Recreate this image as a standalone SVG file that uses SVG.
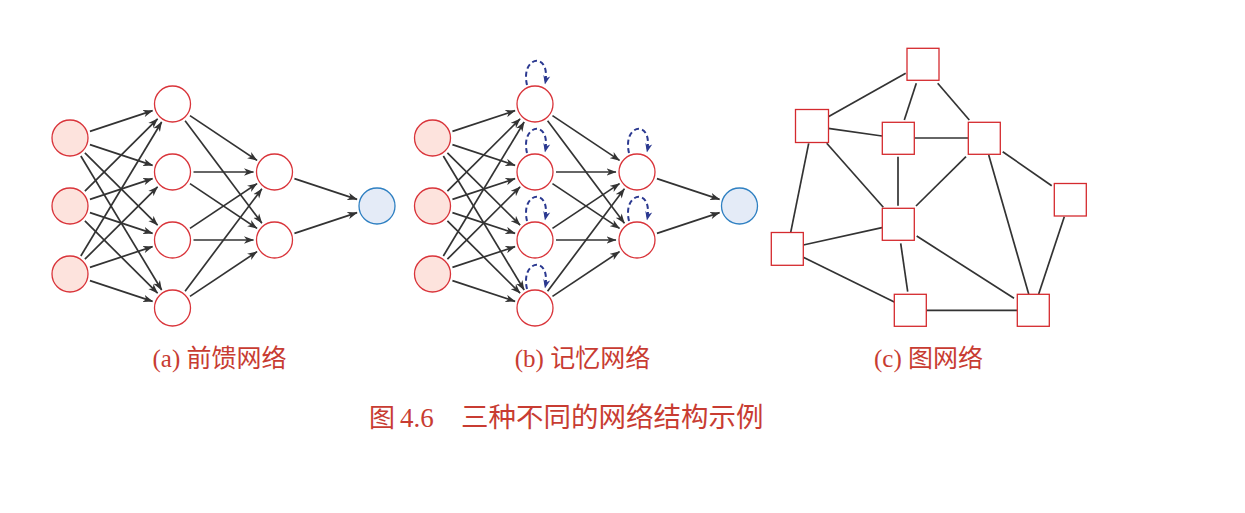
<svg xmlns="http://www.w3.org/2000/svg" width="1245" height="513" viewBox="0 0 1245 513">
<style>
.in{fill:#fde3dd;stroke:#d9343a;stroke-width:1.3}
.hid{fill:#ffffff;stroke:#d9343a;stroke-width:1.3}
.out{fill:#e4ebf7;stroke:#2f80c2;stroke-width:1.3}
.sq{fill:#ffffff;stroke:#d42a2e;stroke-width:1.3}
.e{stroke:#333333;stroke-width:1.7;fill:none;marker-end:url(#arr)}
.g{stroke:#333333;stroke-width:1.7;fill:none}
.loop{stroke:#2b3990;stroke-width:2;fill:none;stroke-dasharray:5 3.2;marker-end:url(#arrb)}
.lbl{font-family:"Liberation Serif","Noto Sans CJK SC",serif;font-size:25px;fill:#c83c32;text-anchor:middle}
.cap{font-family:"Liberation Serif","Noto Sans CJK SC",serif;fill:#c83c32}
</style>
<defs>
<marker id="arr" markerUnits="userSpaceOnUse" markerWidth="10" markerHeight="8" viewBox="0 0 10 8" refX="9.5" refY="4" orient="auto">
<path d="M0,0.3 L10,4 L0,7.7 L2.8,4 z" fill="#333333"/>
</marker>
<marker id="arrb" markerUnits="userSpaceOnUse" markerWidth="9" markerHeight="8" viewBox="0 0 9 8" refX="8.5" refY="4" orient="auto">
<path d="M0,0.5 L9,4 L0,7.5 L2.5,4 z" fill="#2b3990"/>
</marker>
</defs>

<g id="edges-a">
<line class="e" x1="89.93" y1="131.39" x2="152.57" y2="110.61"/>
<line class="e" x1="89.93" y1="144.61" x2="152.57" y2="165.39"/>
<line class="e" x1="84.89" y1="152.81" x2="157.61" y2="225.19"/>
<line class="e" x1="80.84" y1="155.98" x2="161.66" y2="290.02"/>
<line class="e" x1="84.89" y1="191.19" x2="157.61" y2="118.81"/>
<line class="e" x1="89.93" y1="199.39" x2="152.57" y2="178.61"/>
<line class="e" x1="89.93" y1="212.61" x2="152.57" y2="233.39"/>
<line class="e" x1="84.89" y1="220.81" x2="157.61" y2="293.19"/>
<line class="e" x1="80.84" y1="256.02" x2="161.66" y2="121.98"/>
<line class="e" x1="84.89" y1="259.19" x2="157.61" y2="186.81"/>
<line class="e" x1="89.93" y1="267.39" x2="152.57" y2="246.61"/>
<line class="e" x1="89.93" y1="280.61" x2="152.57" y2="301.39"/>
<line class="e" x1="189.97" y1="115.65" x2="257.03" y2="160.35"/>
<line class="e" x1="185.1" y1="120.8" x2="261.9" y2="223.2"/>
<line class="e" x1="193.5" y1="172" x2="253.5" y2="172"/>
<line class="e" x1="189.97" y1="183.65" x2="257.03" y2="228.35"/>
<line class="e" x1="189.97" y1="228.35" x2="257.03" y2="183.65"/>
<line class="e" x1="193.5" y1="240" x2="253.5" y2="240"/>
<line class="e" x1="185.1" y1="291.2" x2="261.9" y2="188.8"/>
<line class="e" x1="189.97" y1="296.35" x2="257.03" y2="251.65"/>
<line class="e" x1="294.43" y1="178.61" x2="357.07" y2="199.39"/>
<line class="e" x1="294.43" y1="233.39" x2="357.07" y2="212.61"/>
</g>

<g id="edges-b" transform="translate(362.5 0)">
<line class="e" x1="89.93" y1="131.39" x2="152.57" y2="110.61"/>
<line class="e" x1="89.93" y1="144.61" x2="152.57" y2="165.39"/>
<line class="e" x1="84.89" y1="152.81" x2="157.61" y2="225.19"/>
<line class="e" x1="80.84" y1="155.98" x2="161.66" y2="290.02"/>
<line class="e" x1="84.89" y1="191.19" x2="157.61" y2="118.81"/>
<line class="e" x1="89.93" y1="199.39" x2="152.57" y2="178.61"/>
<line class="e" x1="89.93" y1="212.61" x2="152.57" y2="233.39"/>
<line class="e" x1="84.89" y1="220.81" x2="157.61" y2="293.19"/>
<line class="e" x1="80.84" y1="256.02" x2="161.66" y2="121.98"/>
<line class="e" x1="84.89" y1="259.19" x2="157.61" y2="186.81"/>
<line class="e" x1="89.93" y1="267.39" x2="152.57" y2="246.61"/>
<line class="e" x1="89.93" y1="280.61" x2="152.57" y2="301.39"/>
<line class="e" x1="189.97" y1="115.65" x2="257.03" y2="160.35"/>
<line class="e" x1="185.1" y1="120.8" x2="261.9" y2="223.2"/>
<line class="e" x1="193.5" y1="172" x2="253.5" y2="172"/>
<line class="e" x1="189.97" y1="183.65" x2="257.03" y2="228.35"/>
<line class="e" x1="189.97" y1="228.35" x2="257.03" y2="183.65"/>
<line class="e" x1="193.5" y1="240" x2="253.5" y2="240"/>
<line class="e" x1="185.1" y1="291.2" x2="261.9" y2="188.8"/>
<line class="e" x1="189.97" y1="296.35" x2="257.03" y2="251.65"/>
<line class="e" x1="294.43" y1="178.61" x2="357.07" y2="199.39"/>
<line class="e" x1="294.43" y1="233.39" x2="357.07" y2="212.61"/>
</g>

<g id="loops-b">
<path class="loop" d="M527,85 C520,55 552,51 545,84"/>
<path class="loop" d="M527,153 C520,123 552,119 545,152"/>
<path class="loop" d="M527,221 C520,191 552,187 545,220"/>
<path class="loop" d="M527,289 C520,259 552,255 545,288"/>
<path class="loop" d="M629,153 C622,123 654,119 647,152"/>
<path class="loop" d="M629,221 C622,191 654,187 647,220"/>
</g>

<g id="edges-c">
<line class="g" x1="905.7" y1="73.3" x2="828.3" y2="116.7"/>
<line class="g" x1="916.3" y1="83.3" x2="904.3" y2="120"/>
<line class="g" x1="937.7" y1="83.3" x2="969.3" y2="120"/>
<line class="g" x1="828.3" y1="128.3" x2="882" y2="136"/>
<line class="g" x1="914.3" y1="138" x2="968.3" y2="138"/>
<line class="g" x1="826.7" y1="143.3" x2="883.3" y2="207.3"/>
<line class="g" x1="808.7" y1="143.3" x2="790.7" y2="232.3"/>
<line class="g" x1="898" y1="156.7" x2="898" y2="205.7"/>
<line class="g" x1="966" y1="156.7" x2="916" y2="206"/>
<line class="g" x1="1002.7" y1="151.7" x2="1051.7" y2="185.7"/>
<line class="g" x1="988.7" y1="155" x2="1028.7" y2="294"/>
<line class="g" x1="1064.3" y1="216.7" x2="1038.7" y2="294"/>
<line class="g" x1="882" y1="227.7" x2="803.3" y2="245"/>
<line class="g" x1="900.7" y1="243.3" x2="907.7" y2="291.7"/>
<line class="g" x1="916.7" y1="236" x2="1014" y2="298.3"/>
<line class="g" x1="803.3" y1="257.3" x2="894.3" y2="302"/>
<line class="g" x1="926.3" y1="310.3" x2="1017.3" y2="310.3"/>
</g>

<g id="a-in1"><circle class="in" cx="70" cy="138" r="18"/></g>
<g id="a-in2"><circle class="in" cx="70" cy="206" r="18"/></g>
<g id="a-in3"><circle class="in" cx="70" cy="274" r="18"/></g>
<g id="a-h1"><circle class="hid" cx="172.5" cy="104" r="18"/></g>
<g id="a-h2"><circle class="hid" cx="172.5" cy="172" r="18"/></g>
<g id="a-h3"><circle class="hid" cx="172.5" cy="240" r="18"/></g>
<g id="a-h4"><circle class="hid" cx="172.5" cy="308" r="18"/></g>
<g id="a-g1"><circle class="hid" cx="274.5" cy="172" r="18"/></g>
<g id="a-g2"><circle class="hid" cx="274.5" cy="240" r="18"/></g>
<g id="a-out"><circle class="out" cx="377" cy="206" r="18"/></g>

<g id="b-in1"><circle class="in" cx="432.5" cy="138" r="18"/></g>
<g id="b-in2"><circle class="in" cx="432.5" cy="206" r="18"/></g>
<g id="b-in3"><circle class="in" cx="432.5" cy="274" r="18"/></g>
<g id="b-h1"><circle class="hid" cx="535" cy="104" r="18"/></g>
<g id="b-h2"><circle class="hid" cx="535" cy="172" r="18"/></g>
<g id="b-h3"><circle class="hid" cx="535" cy="240" r="18"/></g>
<g id="b-h4"><circle class="hid" cx="535" cy="308" r="18"/></g>
<g id="b-g1"><circle class="hid" cx="637" cy="172" r="18"/></g>
<g id="b-g2"><circle class="hid" cx="637" cy="240" r="18"/></g>
<g id="b-out"><circle class="out" cx="739.5" cy="206" r="18"/></g>

<g id="c-top"><rect class="sq" x="907" y="48.3" width="32" height="32"/></g>
<g id="c-lt"><rect class="sq" x="795.5" y="109.5" width="33" height="33"/></g>
<g id="c-mt"><rect class="sq" x="882.3" y="122.3" width="32" height="32"/></g>
<g id="c-rt"><rect class="sq" x="968.3" y="122.3" width="32" height="32"/></g>
<g id="c-fr"><rect class="sq" x="1054.3" y="183.5" width="32" height="32.5"/></g>
<g id="c-ctr"><rect class="sq" x="882.3" y="208.3" width="32" height="32"/></g>
<g id="c-l"><rect class="sq" x="771.3" y="232.5" width="32" height="32.8"/></g>
<g id="c-bm"><rect class="sq" x="894.3" y="294.3" width="32" height="32"/></g>
<g id="c-br"><rect class="sq" x="1017.3" y="294.3" width="32" height="32"/></g>

<g id="labels">
<text class="lbl" x="219.5" y="367">(a) 前馈网络</text>
<text class="lbl" x="582.5" y="367">(b) 记忆网络</text>
<text class="lbl" x="928.5" y="367">(c) 图网络</text>
<text class="cap" y="427"><tspan x="369" font-size="26">图</tspan><tspan x="400" font-size="27">4.6</tspan><tspan x="461" font-size="27.5">三种不同的网络结构示例</tspan></text>
</g>
</svg>
